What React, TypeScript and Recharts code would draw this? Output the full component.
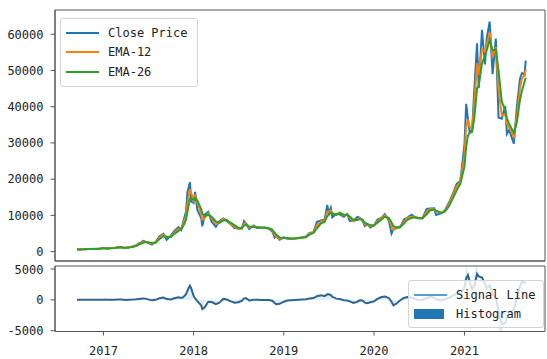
import React from 'react';
import { LineChart, ComposedChart, Line, Area, XAxis, YAxis, ReferenceArea } from 'recharts';

// Sample dates (irregular, denser around big moves)
const dates = [
  '2016-09-16', '2016-10-01', '2016-10-15', '2016-11-01', '2016-11-15', '2016-12-01', '2016-12-15',
  '2017-01-01', '2017-01-05', '2017-01-11', '2017-01-20', '2017-02-01', '2017-02-15', '2017-03-01',
  '2017-03-15', '2017-03-24', '2017-04-01', '2017-04-15', '2017-05-01', '2017-05-15', '2017-05-25',
  '2017-06-01', '2017-06-11', '2017-06-20', '2017-07-01', '2017-07-16', '2017-08-01', '2017-08-15',
  '2017-09-01', '2017-09-14', '2017-10-01', '2017-10-15', '2017-11-01', '2017-11-12', '2017-11-20',
  '2017-12-01', '2017-12-07', '2017-12-17', '2017-12-22', '2018-01-01', '2018-01-07', '2018-01-16',
  '2018-02-01', '2018-02-05', '2018-02-15', '2018-03-01', '2018-03-15', '2018-04-01', '2018-04-15',
  '2018-05-01', '2018-05-15', '2018-06-01', '2018-06-15', '2018-07-01', '2018-07-15', '2018-07-24',
  '2018-08-01', '2018-08-14', '2018-09-01', '2018-09-15', '2018-10-01', '2018-10-15', '2018-11-01',
  '2018-11-15', '2018-11-25', '2018-12-01', '2018-12-15', '2019-01-01', '2019-01-15', '2019-02-01',
  '2019-02-15', '2019-03-01', '2019-03-15', '2019-04-01', '2019-04-15', '2019-05-01', '2019-05-15',
  '2019-06-01', '2019-06-15', '2019-06-26', '2019-07-01', '2019-07-10', '2019-07-16', '2019-08-01',
  '2019-08-15', '2019-09-01', '2019-09-15', '2019-09-25', '2019-10-10', '2019-10-26', '2019-11-05',
  '2019-11-15', '2019-11-25', '2019-12-05', '2019-12-17', '2020-01-01', '2020-01-15', '2020-02-01',
  '2020-02-14', '2020-03-01', '2020-03-12', '2020-03-20', '2020-04-01', '2020-04-15', '2020-05-01',
  '2020-05-15', '2020-06-01', '2020-06-15', '2020-07-01', '2020-07-15', '2020-08-01', '2020-08-15',
  '2020-09-01', '2020-09-08', '2020-10-01', '2020-10-15', '2020-11-01', '2020-11-15', '2020-12-01',
  '2020-12-15', '2021-01-01', '2021-01-08', '2021-01-15', '2021-01-22', '2021-02-01', '2021-02-10',
  '2021-02-21', '2021-02-28', '2021-03-13', '2021-03-25', '2021-04-01', '2021-04-13', '2021-04-25',
  '2021-05-08', '2021-05-19', '2021-06-01', '2021-06-15', '2021-06-22', '2021-07-01', '2021-07-20',
  '2021-08-01', '2021-08-14', '2021-08-22', '2021-09-01', '2021-09-06',
];

const closePrice = [
  607, 613, 638, 730, 712, 753, 780,
  998, 1013, 777, 895, 990, 1010, 1220,
  1250, 940, 1080, 1180, 1420, 1730, 2300,
  2400, 2950, 2750, 2420, 1930, 2710, 4180,
  4890, 3240, 4400, 5690, 6740, 5950, 8250,
  10980, 16400, 19140, 13830, 13400, 16500, 11490,
  9170, 6950, 10230, 10950, 8260, 6840, 8360,
  9120, 8480, 7500, 6480, 6400, 6360, 8400,
  7600, 6200, 7190, 6520, 6600, 6630, 6370,
  5560, 3880, 4220, 3240, 3940, 3550, 3490,
  3620, 3820, 3920, 4150, 5150, 5350, 8200,
  8560, 8820, 12900, 10600, 12100, 9440, 10400,
  10300, 9630, 10360, 8430, 8600, 9550, 9320,
  8500, 7050, 7550, 6640, 7200, 8820, 9390,
  10360, 8550, 4970, 6190, 6640, 6640, 8860,
  9380, 10200, 9440, 9230, 9200, 11800, 11900,
  11970, 10130, 10620, 11500, 13740, 15950, 18760,
  19430, 29370, 40800, 36800, 33000, 33500, 44800,
  57500, 45100, 61200, 51700, 58700, 63500, 49000,
  58800, 37000, 36700, 40200, 32500, 33570, 29800,
  39900, 47800, 49300, 48800, 52700,
];

const ema12 = [
  605, 610, 635, 710, 715, 740, 775,
  940, 980, 900, 870, 960, 1000, 1170,
  1200, 1060, 1040, 1170, 1380, 1700, 2200,
  2300, 2700, 2700, 2530, 2200, 2550, 3800,
  4600, 4000, 4150, 5300, 6200, 6500, 7600,
  9800, 13200, 17200, 16200, 14000, 15300, 13600,
  10400, 8900, 9300, 10500, 9200, 7600, 7900,
  9000, 8700, 7600, 6900, 6300, 6450, 7700,
  7800, 6600, 7000, 6700, 6620, 6580, 6400,
  5900, 4600, 4200, 3500, 3800, 3700, 3530,
  3600, 3780, 3880, 4050, 5000, 5300, 7300,
  8300, 8500, 11000, 11000, 11400, 10700, 10100,
  10800, 10000, 10200, 9300, 8350, 8900, 9250,
  8800, 7500, 7450, 7000, 7250, 8400, 9300,
  10000, 8900, 7100, 6000, 6400, 6900, 8200,
  9300, 9600, 9500, 9200, 9230, 11000, 11750,
  11700, 11100, 10700, 11300, 13300, 15500, 18000,
  19200, 26600, 34500, 36500, 34500, 33800, 41000,
  52000, 48700, 56000, 55000, 57000, 60500, 53500,
  56500, 45000, 37500, 38000, 35400, 34200, 31700,
  37500, 45200, 47800, 48600, 50300,
];

const ema26 = [
  600, 608, 628, 690, 710, 735, 765,
  890, 920, 890, 880, 935, 985, 1110,
  1170, 1110, 1070, 1140, 1320, 1590, 2000,
  2150, 2450, 2560, 2560, 2340, 2480, 3400,
  4250, 4100, 4050, 4900, 5700, 6300, 7000,
  8700, 11000, 14500, 14800, 14200, 14800, 14100,
  11700, 10500, 9800, 10200, 9600, 8300, 7900,
  8600, 8700, 7900, 7300, 6600, 6450, 7200,
  7500, 6900, 6800, 6750, 6620, 6590, 6450,
  6100, 5200, 4700, 3900, 3750, 3720, 3600,
  3580, 3700, 3830, 3980, 4700, 5150, 6400,
  7800, 8200, 9800, 10100, 10700, 10500, 10200,
  10600, 10200, 10150, 9700, 8700, 8700, 9000,
  8850, 8000, 7650, 7250, 7250, 8000, 8900,
  9600, 9300, 8000, 7000, 6600, 6800, 7700,
  8800, 9300, 9500, 9300, 9240, 10300, 11400,
  11600, 11300, 10700, 11100, 12700, 14700, 17000,
  18600, 23500, 29000, 32000, 32800, 33000, 37000,
  45000, 46000, 52000, 54000, 55500, 58500, 55500,
  55800, 50000, 41500, 39000, 36800, 35200, 32800,
  35600, 42000, 44500, 46800, 48000,
];

// MACD signal line
const signalLine = [
  0, 2, 5, 15, 10, 8, 10,
  30, 45, 35, 10, 15, 20, 40,
  50, 10, -15, 20, 50, 90, 150,
  190, 230, 200, 80, -80, 0, 250,
  380, 120, 60, 250, 430, 300, 450,
  900, 1500, 2300, 1900, 600, 250, -200,
  -900, -1500, -1200, -300, -350, -700, -450,
  150, 60, -250, -450, -380, -150, 200,
  280, -100, 30, 10, -20, -10, -30,
  -150, -500, -700, -650, -300, -100, -60,
  -20, 30, 70, 90, 230, 300, 600,
  750, 600, 900, 900, 800, 500, 200,
  150, -50, -100, -250, -500, -300, -50,
  -100, -450, -550, -400, -250, 150, 450,
  550, 300, -300, -900, -600, -100, 300,
  450, 400, 150, 0, -20, 300, 500,
  380, 100, -100, 100, 350, 700, 1000,
  900, 2000, 3500, 4000, 3000, 1700, 2300,
  4200, 3800, 3600, 2600, 1800, 2400, 900,
  300, -1800, -4000, -3800, -2800, -2100, -1500,
  300, 2200, 3000, 2800, 2600,
];

// Histogram values (MACD)
const histogram = [
  5, 2, 7, 20, 5, 5, 10,
  50, 60, 10, -10, 25, 15, 60,
  30, -50, -30, 30, 60, 110, 200,
  150, 250, 140, -30, -140, 70, 400,
  350, -100, 100, 400, 500, 200, 600,
  1100, 2200, 2700, 1400, -200, 500, -500,
  -1300, -1600, -500, 300, -400, -700, 0,
  400, 0, -300, -400, -300, 0, 500,
  300, -300, 200, -50, 0, -10, -50,
  -200, -600, -500, -400, 50, -20, -70,
  20, 80, 50, 70, 300, 150, 900,
  500, 300, 1200, 900, 700, 200, -100,
  200, -200, 50, -400, -350, 200, 250,
  -50, -500, -200, -250, 0, 400, 400,
  400, -400, -900, -1000, -200, 100, 500,
  500, 300, 0, -100, -10, 700, 350,
  100, -200, 0, 200, 600, 800, 1000,
  600, 3100, 5600, 4500, 1700, 800, 4000,
  6500, 2700, 4000, 1000, 1500, 2000, -2000,
  700, -5000, -5400, -1000, -1400, -1000, -1100,
  1900, 3200, 3300, 1800, 2300,
];

const yearTicks = ['2017-01-01', '2018-01-01', '2019-01-01', '2020-01-01', '2021-01-01'];
const priceTicks = [0, 10000, 20000, 30000, 40000, 50000, 60000];
const macdTicks = [-5000, 0, 5000];

const rows = dates.map((d, i) => ({
  t: Date.parse(d),
  close: closePrice[i],
  ema12: ema12[i],
  ema26: ema26[i],
  signal: signalLine[i],
  hist: histogram[i],
}));

const X_DOMAIN = [Date.parse('2016-06-19'), Date.parse('2021-11-23')];
const PRICE_DOMAIN = [-2600, 66700];
const MACD_DOMAIN = [-5130, 5490];

const FONT = '"DejaVu Sans Mono", monospace';
const AXIS = '#555';
const tickStyle = { fontSize: 12, fontFamily: FONT, fill: '#222' };

const topSeries = [
  { key: 'close', name: 'Close Price', color: '#1f77b4' },
  { key: 'ema12', name: 'EMA-12', color: '#ff7f0e' },
  { key: 'ema26', name: 'EMA-26', color: '#2ca02c' },
];

const HIST_COLOR = '#1f77b4';
const SIGNAL_COLOR = '#2c6594';

type LegendItem = { name: string; color: string; patch?: boolean };

function LegendBox({ items, left, top, width, rowGap }: { items: LegendItem[]; left: number; top: number; width: number; rowGap: number }) {
  return (
    <div
      style={{
        position: 'absolute',
        left,
        top,
        width,
        boxSizing: 'border-box',
        padding: '4px 0 4px 5px',
        background: 'rgba(255,255,255,0.8)',
        border: '1px solid #d4d4d4',
        borderRadius: 3,
        fontFamily: FONT,
        fontSize: 12,
        color: '#222',
      }}
    >
      {items.map((it) => (
        <div key={it.name} style={{ display: 'flex', alignItems: 'center', height: rowGap }}>
          <svg width={33} height={12} style={{ marginRight: 9 }}>
            {it.patch ? (
              <rect x={0} y={1} width={30} height={10} fill={it.color} />
            ) : (
              <line x1={0} y1={6} x2={33} y2={6} stroke={it.color} strokeWidth={2} />
            )}
          </svg>
          <span style={{ lineHeight: '12px', whiteSpace: 'pre' }}>{it.name}</span>
        </div>
      ))}
    </div>
  );
}

export default function App() {
  return (
    <div style={{ position: 'absolute', left: 0, top: 0, width: 547, height: 359, background: '#fff' }}>
      <div style={{ position: 'absolute', left: 0, top: 0 }}>
        <LineChart width={547} height={265} data={rows} margin={{ top: 10, right: 2, bottom: 0, left: 0 }}>
          <XAxis
            dataKey="t"
            type="number"
            domain={X_DOMAIN}
            ticks={yearTicks.map((d) => Date.parse(d))}
            allowDataOverflow
            tick={false}
            tickSize={4}
            height={4}
            stroke={AXIS}
          />
          <YAxis
            type="number"
            domain={PRICE_DOMAIN}
            ticks={priceTicks}
            allowDataOverflow
            width={55}
            tickSize={4.5}
            tickMargin={7}
            tick={tickStyle}
            stroke={AXIS}
          />
          {topSeries.map((s) => (
            <Line
              key={s.key}
              dataKey={s.key}
              name={s.name}
              stroke={s.color}
              strokeWidth={2}
              dot={false}
              type="linear"
              isAnimationActive={false}
            />
          ))}
          <ReferenceArea
            x1={X_DOMAIN[0]}
            x2={X_DOMAIN[1]}
            y1={PRICE_DOMAIN[0]}
            y2={PRICE_DOMAIN[1]}
            fill="none"
            stroke={AXIS}
            strokeWidth={1}
          />
        </LineChart>
      </div>

      <div style={{ position: 'absolute', left: 0, top: 262 }}>
        <ComposedChart width={547} height={97} data={rows} margin={{ top: 4, right: 2, bottom: 0, left: 0 }}>
          <XAxis
            dataKey="t"
            type="number"
            domain={X_DOMAIN}
            ticks={yearTicks.map((d) => Date.parse(d))}
            allowDataOverflow
            tickFormatter={(v: number) => String(new Date(v).getUTCFullYear())}
            height={27.5}
            tickSize={4}
            tickMargin={11}
            tick={tickStyle}
            stroke={AXIS}
          />
          <YAxis
            type="number"
            domain={MACD_DOMAIN}
            ticks={macdTicks}
            allowDataOverflow
            width={55}
            tickSize={4.5}
            tickMargin={7}
            tick={tickStyle}
            stroke={AXIS}
          />
          <Area
            dataKey="hist"
            name="Histogram"
            type="linear"
            fill={HIST_COLOR}
            fillOpacity={0.14}
            stroke="none"
            isAnimationActive={false}
          />
          <Line
            dataKey="signal"
            name="Signal Line"
            type="linear"
            stroke={SIGNAL_COLOR}
            strokeWidth={2}
            dot={false}
            isAnimationActive={false}
          />
          <ReferenceArea
            x1={X_DOMAIN[0]}
            x2={X_DOMAIN[1]}
            y1={MACD_DOMAIN[0]}
            y2={MACD_DOMAIN[1]}
            fill="none"
            stroke={AXIS}
            strokeWidth={1}
          />
        </ComposedChart>
      </div>

      <LegendBox items={topSeries} left={60} top={18} width={138} rowGap={19.5} />
      <LegendBox
        items={[
          { name: 'Signal Line', color: '#5b9bd0' },
          { name: 'Histogram', color: HIST_COLOR, patch: true },
        ]}
        left={408}
        top={280}
        width={136}
        rowGap={19}
      />
    </div>
  );
}
